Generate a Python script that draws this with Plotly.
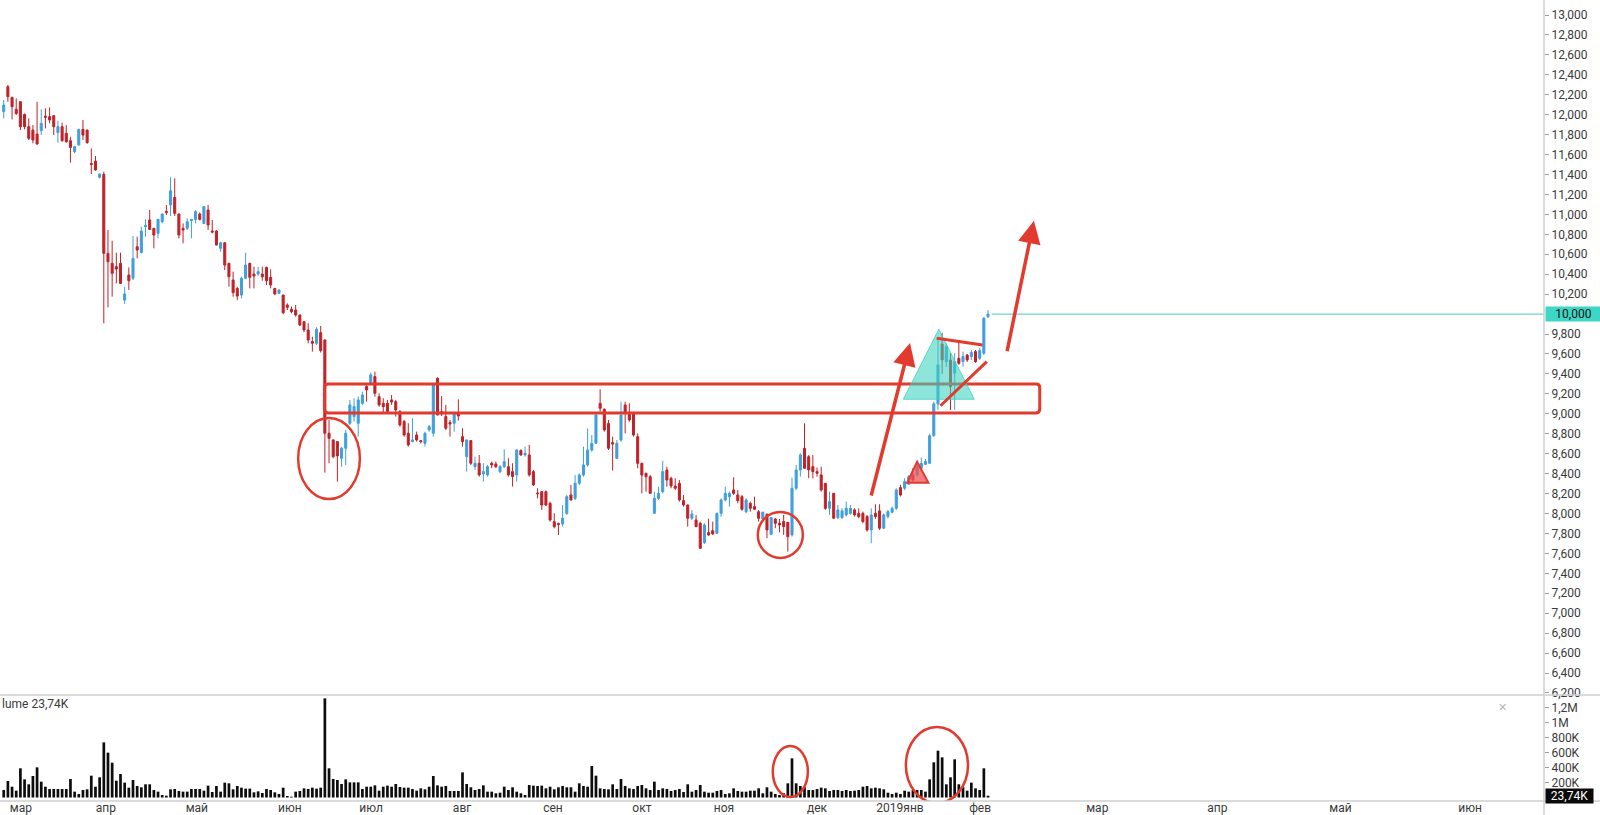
import plotly.graph_objects as go

# ---------------- data (daily candles) ----------------
open_ = [
    12030, 12281, 12174, 12054, 12130, 12003, 11880, 11846, 11806, 11840,
    11985, 11980, 11990, 11820, 11880, 11813, 11739, 11629, 11696, 11853,
    11846, 11510, 11535, 11372, 11402, 10609, 10509, 10476, 10509, 10141,
    10392, 10359, 10676, 10616, 10877, 10944, 10860, 10810, 10927, 11030,
    11094, 11171, 11004, 10860, 10860, 10937, 10950, 11004, 10910, 11044,
    10833, 10833, 10660, 10716, 10509, 10342, 10258, 10191, 10359, 10509,
    10402, 10402, 10402, 10469, 10369, 10258, 10208, 10191, 10091, 10048,
    10041, 9991, 9924,
    9841, 9724, 9707, 9814, 9741, 8805, 8738, 8721, 8554, 8654,
    8905, 8972, 8905, 9106, 9273, 9306, 9373, 9172, 9106, 9105,
    9139, 9122, 9022, 8922, 8805, 8721, 8788, 8731, 8704, 8838,
    8805, 9356, 9022, 8972, 8912, 8905, 8998, 8771, 8570, 8731,
    8470, 8504, 8397, 8387, 8504, 8497, 8420, 8470, 8470, 8420,
    8387, 8631, 8587, 8587,
    8420, 8206, 8219, 8219, 8102, 7918, 7900, 7895, 8002, 8186,
    8152, 8303, 8386, 8487, 8637, 8704, 9105, 9045, 8904, 8711,
    8553, 8737, 9088, 9005, 9005, 8771, 8503, 8403, 8369, 8002,
    8152, 8219, 8436, 8353, 8276, 8303, 8129, 8085, 7952, 7935,
    7902, 7708, 7808, 7828, 7801, 8002, 8136, 8169, 8236, 8186,
    8169, 8018, 8102, 8069, 8018,
    7946, 7992, 7792, 7945, 7902, 7919, 7912, 7785, 8253, 8437,
    8654, 8570, 8470, 8420, 8387, 8303, 8052, 8203, 7959, 7959,
    7986, 8002, 8036, 8002, 8002, 7969, 7835, 8002, 8026, 7852,
    7969, 8012, 8052, 8260, 8253, 8293, 8387, 8387, 8454, 8494,
    8504, 8780, 9100, 9700, 9523, 9540, 9406, 9557, 9523, 9590,
    9574, 9624, 9557, 9607, 9974,
]
high = [
    12147, 12298, 12180, 12164, 12135, 12013, 11963, 11896, 12130, 12054,
    12064, 12074, 11995, 11940, 11920, 11896, 11779, 11685, 11860, 11947,
    11850, 11662, 11586, 11410, 11428, 10843, 10736, 10616, 10616, 10275,
    10469, 10783, 10777, 10877, 10950, 11044, 10865, 10955, 11011, 11094,
    11372, 11362, 11010, 10910, 10960, 10955, 11044, 11020, 11085, 11094,
    10944, 10843, 10726, 10720, 10515, 10426, 10275, 10375, 10616, 10515,
    10476, 10476, 10476, 10475, 10449, 10260, 10250, 10195, 10108, 10075,
    10091, 9995, 9930,
    9908, 9774, 9868, 9881, 9745, 8938, 8745, 8725, 8671, 8838,
    9139, 9156, 9172, 9222, 9290, 9413, 9423, 9206, 9156, 9139,
    9189, 9139, 9039, 8938, 8905, 8955, 8821, 8738, 8821, 8888,
    9306, 9366, 9179, 9089, 8938, 9012, 9145, 8855, 8740, 8735,
    8570, 8587, 8504, 8487, 8520, 8520, 8487, 8644, 8554, 8504,
    8644, 8644, 8671, 8688,
    8436, 8253, 8225, 8230, 8119, 8002, 7908, 8085, 8186, 8286,
    8386, 8403, 8670, 8854, 8787, 9005, 9245, 9055, 8938, 8771,
    8737, 9122, 9122, 9105, 9021, 8804, 8510, 8410, 8386, 8219,
    8269, 8527, 8470, 8369, 8353, 8336, 8186, 8090, 8035, 7985,
    7918, 7902, 7948, 7918, 8008, 8152, 8269, 8219, 8363, 8236,
    8186, 8152, 8119, 8169, 8035,
    8019, 8002, 7965, 7952, 7945, 7986, 7915, 8360, 8487, 8604,
    8905, 8587, 8587, 8460, 8470, 8306, 8220, 8206, 8086, 8052,
    8119, 8086, 8052, 8052, 8019, 7986, 8052, 8093, 8093, 8002,
    8036, 8069, 8253, 8287, 8353, 8387, 8454, 8504, 8561, 8547,
    8800, 9122, 9760, 9810, 9707, 9607, 9607, 9740, 9624, 9600,
    9640, 9640, 9660, 9970, 10040,
]
low = [
    11963, 12130, 11953, 11997, 11846, 11853, 11746, 11713, 11700, 11796,
    11863, 11913, 11796, 11719, 11729, 11719, 11519, 11612, 11690, 11746,
    11710, 11405, 11440, 11360, 9907, 10068, 10175, 10308, 10302, 10101,
    10242, 10342, 10559, 10610, 10777, 10843, 10660, 10760, 10910, 10994,
    10984, 10984, 10760, 10710, 10843, 10760, 10910, 10940, 10904, 10843,
    10810, 10690, 10626, 10442, 10275, 10175, 10141, 10158, 10355, 10258,
    10258, 10382, 10335, 10292, 10258, 10190, 10200, 10000, 10041, 10008,
    9974, 9880, 9820,
    9707, 9624, 9690, 9614, 8410, 8504, 8554, 8320, 8470, 8487,
    8888, 8922, 8771, 9089, 9122, 9289, 9172, 9072, 9005, 9005,
    9089, 8972, 8871, 8771, 8671, 8715, 8721, 8704, 8671, 8821,
    8771, 8985, 8978, 8838, 8771, 8821, 8932, 8671, 8420, 8487,
    8437, 8370, 8320, 8370, 8454, 8454, 8404, 8454, 8370, 8270,
    8320, 8580, 8570, 8370,
    8276, 8152, 8035, 8075, 7918, 7851, 7785, 7868, 7985, 8130,
    8136, 8286, 8369, 8470, 8620, 8700, 9021, 8821, 8637, 8430,
    8547, 8720, 8804, 8921, 8771, 8453, 8202, 8219, 8200, 7998,
    8136, 8202, 8269, 8253, 8236, 8119, 8069, 7868, 7935, 7865,
    7648, 7694, 7775, 7785, 7795, 7968, 8119, 8069, 8186, 8102,
    8029, 8002, 8018, 8035, 7918,
    7936, 7752, 7785, 7852, 7812, 7785, 7618, 7768, 8236, 8370,
    8450, 8353, 8353, 8370, 8220, 8036, 7986, 7946, 7946, 7946,
    7969, 7986, 7969, 7952, 7902, 7818, 7702, 7946, 7835, 7845,
    7952, 8002, 8036, 8170, 8236, 8287, 8320, 8370, 8437, 8487,
    8500, 8771, 9040, 9400, 9470, 9038, 9040, 9490, 9473, 9520,
    9540, 9510, 9540, 9590, 9960,
]
close = [
    12097, 12181, 12080, 12013, 11880, 11880, 11763, 11746, 11706, 11913,
    11975, 11947, 11880, 11880, 11739, 11729, 11672, 11679, 11853, 11796,
    11719, 11502, 11445, 11405, 10609, 10526, 10409, 10452, 10308, 10202,
    10335, 10559, 10643, 10833, 10890, 10850, 10793, 10950, 11004, 11020,
    11238, 11011, 10793, 10843, 10927, 10950, 11027, 10950, 11078, 10894,
    10823, 10693, 10716, 10492, 10375, 10215, 10181, 10359, 10492, 10369,
    10382, 10426, 10375, 10335, 10292, 10202, 10242, 10014, 10068, 10024,
    9991, 9891, 9841,
    9741, 9707, 9848, 9634, 8805, 8754, 8570, 8577, 8654, 8805,
    9089, 9072, 9139, 9189, 9239, 9390, 9206, 9089, 9072, 9022,
    9119, 9039, 8888, 8788, 8688, 8738, 8738, 8721, 8805, 8871,
    9289, 8988, 8998, 8855, 8898, 8998, 8978, 8721, 8738, 8504,
    8504, 8387, 8420, 8470, 8487, 8470, 8470, 8520, 8387, 8370,
    8637, 8587, 8604, 8387,
    8286, 8199, 8085, 8085, 7935, 7868, 7890, 7952, 8169, 8136,
    8303, 8386, 8487, 8637, 8704, 8988, 9055, 8838, 8654, 8697,
    8704, 8988, 9005, 8938, 8787, 8503, 8386, 8369, 8202, 8152,
    8202, 8420, 8336, 8276, 8253, 8136, 8085, 7952, 7995, 7868,
    7651, 7885, 7785, 7795, 8002, 8136, 8202, 8202, 8202, 8129,
    8042, 8136, 8052, 8042, 7952,
    8012, 7835, 7959, 7902, 7885, 7869, 7768, 8253, 8437, 8587,
    8454, 8437, 8420, 8404, 8236, 8052, 8119, 7952, 8036, 8026,
    8052, 8052, 7986, 7969, 7919, 7835, 7986, 7969, 7852, 7986,
    8019, 8052, 8236, 8186, 8320, 8370, 8337, 8470, 8504, 8521,
    8780, 9100, 9490, 9540, 9674, 9272, 9523, 9507, 9574, 9540,
    9614, 9523, 9634, 9958, 10000,
]
# volume in thousands
volume_k = [
    100, 220, 144, 91, 389, 242, 176, 287, 402, 211,
    144, 113, 113, 113, 113, 113, 247, 78, 47, 100,
    109, 291, 144, 269, 735, 598, 464, 224, 313, 198,
    131, 233, 153, 136, 176, 176, 100, 78, 33, 24,
    109, 113, 87, 78, 78, 113, 113, 113, 91, 158,
    73, 153, 78, 198, 189, 109, 153, 131, 118, 118,
    69, 82, 60, 113, 100, 69, 47, 131, 20, 11,
    78, 87, 122, 113, 131, 118, 131, 1322, 389, 247,
    233, 180, 242, 202, 202, 202, 113, 144, 144, 162,
    91, 144, 158, 144, 180, 140, 131, 131, 113, 91,
    122, 109, 144, 287, 162, 144, 153, 87, 87, 87,
    335, 180, 136, 100, 113, 162, 78, 78, 56, 64,
    144, 100, 136, 78, 56, 33, 167, 158, 153, 158,
    122, 144, 109, 136, 153, 136, 136, 78, 189, 153,
    144, 420, 291, 122, 113, 109, 176, 113, 247, 153,
    122, 113, 153, 167, 122, 100, 211, 100, 122, 113,
    87, 100, 113, 73, 176, 78, 100, 167, 78, 64,
    64, 87, 100, 47, 56, 122, 87, 78, 78, 91,
    91, 122, 56, 136, 78, 47, 33, 56, 189, 522,
    189, 153, 136, 100, 100, 113, 131, 122, 87, 100,
    100, 87, 100, 87, 91, 100, 144, 153, 122, 131,
    122, 109, 64, 47, 64, 47, 91, 78, 100, 100,
    100, 78, 242, 469, 624, 535, 176, 269, 509, 176,
    136, 91, 198, 122, 100, 389, 23.74,
]
month_labels = ["мар", "апр", "май", "июн", "июл", "авг", "сен", "окт", "ноя",
                "дек", "2019янв", "фев", "мар", "апр", "май", "июн"]
month_pos = [4.1, 24.5, 46.3, 68.6, 88.1, 109.9, 131.7, 153.0, 172.7,
             195.0, 214.9, 234.1, 262.2, 291.0, 320.5, 351.6]
last_price = 10000
price_ticks = [p for p in range(6200, 13001, 200) if p != last_price]
vol_ticks = [200, 400, 600, 800, 1000, 1200]
vol_labels = ["200K", "400K", "600K", "800K", "1M", "1,2M"]
last_volume_label = "23,74K"

# ---------------- layout constants ----------------
X_RANGE = [-0.89, 369.3]
P_RANGE = [6179.6, 13150.5]
V_RANGE = [-46.7, 1366.7]
DOM = 106 / 801.0          # volume pane share of the plot height
FONT = "Roboto"
TXT = "#3a3a3a"
RED = "#e23b2e"
UP = "#3f9fdb"
DOWN = "#bf2228"

x = list(range(len(close)))

fig = go.Figure()
fig.add_trace(go.Candlestick(
    x=x, open=open_, high=high, low=low, close=close,
    increasing=dict(line=dict(color=UP, width=1), fillcolor=UP),
    decreasing=dict(line=dict(color=DOWN, width=1), fillcolor=DOWN),
    whiskerwidth=0, xaxis="x", yaxis="y", showlegend=False, hoverinfo="skip"))
fig.add_trace(go.Bar(
    x=x, y=volume_k, marker=dict(color="#0d0d0d", line=dict(width=0)),
    xaxis="x", yaxis="y2", showlegend=False, hoverinfo="skip"))

shapes = []


def rrect(x0, x1, y0, y1, rx, ry):
    return (f"M {x0+rx},{y1} L {x1-rx},{y1} Q {x1},{y1} {x1},{y1-ry} "
            f"L {x1},{y0+ry} Q {x1},{y0} {x1-rx},{y0} L {x0+rx},{y0} "
            f"Q {x0},{y0} {x0},{y0+ry} L {x0},{y1-ry} Q {x0},{y1} {x0+rx},{y1} Z")


# resistance box
shapes.append(dict(type="path", xref="x", yref="y",
                   path=rrect(76.9, 248.4, 9008, 9299, 0.9, 40),
                   line=dict(color=RED, width=3), fillcolor="rgba(0,0,0,0)"))
# circles on price
shapes.append(dict(type="circle", xref="x", yref="y", x0=70.6, x1=85.4, y0=8145, y1=8958,
                   line=dict(color=RED, width=2.5)))
shapes.append(dict(type="circle", xref="x", yref="y", x0=180.8, x1=191.6, y0=7554, y1=8015,
                   line=dict(color=RED, width=2.5)))
# cyan triangle
shapes.append(dict(type="path", xref="x", yref="y",
                   path="M 224.2,9848 L 215.7,9146 L 232.7,9146 Z",
                   fillcolor="rgba(60,210,192,0.58)",
                   line=dict(color="rgba(60,210,192,0.8)", width=1)))
# small red triangle
shapes.append(dict(type="path", xref="x", yref="y",
                   path="M 219.0,8520 L 216.6,8309 L 221.7,8309 Z",
                   fillcolor="rgba(238,86,86,0.75)", line=dict(color=RED, width=2)))
# symmetric triangle lines
shapes.append(dict(type="line", xref="x", yref="y", x0=223.7, y0=9757, x1=234.7, y1=9690,
                   line=dict(color=RED, width=3)))
shapes.append(dict(type="line", xref="x", yref="y", x0=224.6, y0=9081, x1=235.7, y1=9523,
                   line=dict(color=RED, width=3)))
# last price line
shapes.append(dict(type="line", xref="x", yref="y", x0=236.9, x1=X_RANGE[1],
                   y0=last_price, y1=last_price, line=dict(color="#4cc9c0", width=1)))
# volume circles
shapes.append(dict(type="circle", xref="x", yref="y2", x0=184.4, x1=192.8, y0=6.7, y1=687,
                   line=dict(color=RED, width=2.5)))
shapes.append(dict(type="circle", xref="x", yref="y2", x0=216.3, x1=231.2, y0=-73, y1=940,
                   line=dict(color=RED, width=2.5)))
# pane separators / axis lines
shapes.append(dict(type="line", xref="paper", yref="paper", x0=0, x1=1.04, y0=DOM, y1=DOM,
                   line=dict(color="#cfcfcf", width=1.5)))
shapes.append(dict(type="line", xref="paper", yref="paper", x0=0, x1=1.04, y0=0, y1=0,
                   line=dict(color="#cfcfcf", width=1.5)))
shapes.append(dict(type="line", xref="paper", yref="paper", x0=1, x1=1, y0=-0.02, y1=1,
                   line=dict(color="#cfcfcf", width=1.5)))

annotations = [
    dict(x=217.3, y=9710, ax=207.9, ay=8166, xref="x", yref="y", axref="x", ayref="y",
         showarrow=True, arrowhead=2, arrowsize=1.3, arrowwidth=3.5, arrowcolor=RED,
         text="", standoff=0),
    dict(x=247.0, y=10937, ax=240.5, ay=9613, xref="x", yref="y", axref="x", ayref="y",
         showarrow=True, arrowhead=2, arrowsize=1.3, arrowwidth=3.5, arrowcolor=RED,
         text="", standoff=0),
    dict(x=1, y=last_price, xref="paper", yref="y", xanchor="left", yanchor="middle",
         xshift=1, text=f"{last_price:,}", showarrow=False, align="center", width=55,
         bgcolor="#3ed6c5", borderpad=0, font=dict(family=FONT, size=12, color="#111")),
    dict(x=1, y=23.74, xref="paper", yref="y2", xanchor="left", yanchor="middle",
         xshift=1, text=last_volume_label, showarrow=False, align="center", width=47,
         bgcolor="#0a0a0a", borderpad=0, font=dict(family=FONT, size=12, color="#ffffff")),
    dict(x=0, y=(801 - 704) / 801, xref="paper", yref="paper", xanchor="left",
         yanchor="middle", text="lume " + last_volume_label, showarrow=False,
         font=dict(family=FONT, size=12, color=TXT)),
    dict(x=1502 / 1544, y=(801 - 707) / 801, xref="paper", yref="paper", xanchor="center",
         yanchor="middle", text="✕", showarrow=False,
         font=dict(family=FONT, size=11, color="#b5b5b5")),
]

fig.update_layout(
    width=1600, height=815,
    margin=dict(l=0, r=56, t=0, b=14),
    paper_bgcolor="white", plot_bgcolor="white",
    hovermode=False, bargap=0.35,
    font=dict(family=FONT, size=12, color=TXT),
    xaxis=dict(domain=[0, 1], range=X_RANGE, anchor="free", position=2 / 801,
               tickmode="array", tickvals=month_pos, ticktext=month_labels,
               showgrid=False, zeroline=False, showline=False, ticks="",
               rangeslider=dict(visible=False),
               tickfont=dict(family=FONT, size=12, color=TXT)),
    yaxis=dict(domain=[DOM, 1], range=P_RANGE, side="right", anchor="x",
               tickmode="array", tickvals=price_ticks, tickformat=",d",
               showgrid=False, zeroline=False, showline=False, ticks="outside",
               ticklen=4, tickcolor="#a0a0a0",
               tickfont=dict(family=FONT, size=12, color=TXT)),
    yaxis2=dict(domain=[0, DOM], range=V_RANGE, side="right", anchor="x",
                tickmode="array", tickvals=vol_ticks, ticktext=vol_labels,
                showgrid=False, zeroline=False, showline=False, ticks="outside",
                ticklen=4, tickcolor="#a0a0a0",
                tickfont=dict(family=FONT, size=12, color=TXT)),
    shapes=shapes,
    annotations=annotations,
)

fig.write_html("out.html",
               config={"displayModeBar": False, "staticPlot": True},
               post_script="document.body.style.margin='0';document.body.style.overflow='hidden';")
